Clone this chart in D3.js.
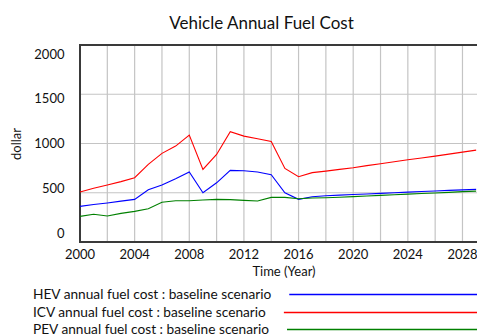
<!DOCTYPE html>
<html>
<head>
<meta charset="utf-8">
<script src="https://cdn.jsdelivr.net/npm/d3@7"></script>
<style>
  html, body { margin: 0; padding: 0; background: #fff; }
  svg { display: block; font-family: Lato, "Open Sans", sans-serif; }
</style>
</head>
<body>
<svg id="chart" width="477" height="334"></svg>
<script>
// Years simulated
const years = d3.range(2000, 2030);

// Annual fuel cost per vehicle type (dollar), baseline scenario
const hevCost = [362, 380, 396, 415, 433, 530, 578, 642, 710, 500,
                 601, 727, 723, 710, 683, 500, 433, 460, 470, 476,
                 482, 488, 494, 500, 506, 512, 518, 524, 529, 534];
const icvCost = [507, 545, 578, 613, 653, 788, 900, 974, 1085, 737,
                 889, 1120, 1075, 1048, 1021, 747, 663, 704, 720, 737,
                 754, 775, 795, 815, 835, 853, 872, 892, 912, 933];
const pevCost = [260, 281, 264, 291, 311, 338, 403, 419, 419, 426,
                 433, 430, 423, 416, 453, 453, 439, 446, 449, 455,
                 461, 467, 473, 479, 486, 492, 498, 504, 511, 517];

const yTicks = [0, 500, 1000, 1500, 2000];
const xTicks = d3.range(2000, 2030, 4);
const xGrid = d3.range(2000, 2030, 2);

const seriesList = [
  { name: "HEV annual fuel cost : baseline scenario", values: hevCost, color: "#0000ff" },
  { name: "ICV annual fuel cost : baseline scenario", values: icvCost, color: "#ff0000" },
  { name: "PEV annual fuel cost : baseline scenario", values: pevCost, color: "#008000" }
];

const svg = d3.select("#chart");
const plotLeft = 80, plotTop = 45, plotBottom = 242;

const x = d3.scaleLinear().domain([2000, 2029]).range([plotLeft, plotLeft + 29 * 13.66]);
const y = d3.scaleLinear().domain([0, 2000]).range([plotBottom, plotTop]);
// Value labels on the y axis sit slightly inside the frame
const yLabel = d3.scaleLinear().domain([0, 2000]).range([238, 58.5]);

// Grid
svg.append("g").selectAll("line").data(xGrid.slice(1)).join("line")
  .attr("x1", d => x(d)).attr("x2", d => x(d))
  .attr("y1", plotTop).attr("y2", plotBottom)
  .attr("stroke", "#c4c4c4").attr("stroke-width", 1.2);
svg.append("g").selectAll("line").data(yTicks.slice(1, -1)).join("line")
  .attr("x1", plotLeft).attr("x2", 477)
  .attr("y1", d => y(d)).attr("y2", d => y(d))
  .attr("stroke", "#c4c4c4").attr("stroke-width", 1.2);

// Frame: left, top and bottom edges
const frame = svg.append("g").attr("stroke", "#3a3a3a").attr("stroke-width", 2).attr("fill", "none");
frame.append("path").attr("d", `M477,${plotTop} H${plotLeft} V${plotBottom} H477`);

// Series lines
const line = d3.line().x((d, i) => x(years[i])).y(d => y(d));
svg.append("g").selectAll("path").data(seriesList).join("path")
  .attr("d", d => line(d.values))
  .attr("fill", "none")
  .attr("stroke", d => d.color)
  .attr("stroke-width", 1.1);

// Tick labels
svg.append("g").selectAll("text").data(yTicks).join("text")
  .attr("x", 64.5).attr("y", d => yLabel(d))
  .attr("text-anchor", "end")
  .attr("font-size", 13).attr("fill", "#111")
  .text(d => d);
svg.append("g").selectAll("text").data(xTicks).join("text")
  .attr("x", d => x(d)).attr("y", 259)
  .attr("text-anchor", "middle")
  .attr("font-size", 13).attr("fill", "#111")
  .text(d => d);

// Titles
svg.append("text").attr("x", 261.5).attr("y", 28.5)
  .attr("text-anchor", "middle").attr("font-size", 17).attr("fill", "#111")
  .text("Vehicle Annual Fuel Cost");
svg.append("text").attr("x", 284).attr("y", 276)
  .attr("text-anchor", "middle").attr("font-size", 13).attr("fill", "#111")
  .text("Time (Year)");
svg.append("text")
  .attr("transform", "translate(21,144) rotate(-90)")
  .attr("text-anchor", "middle").attr("font-size", 13).attr("fill", "#111")
  .text("dollar");

// Legend
const legendRows = [294.5, 312.5, 329.5];
const legend = svg.append("g").selectAll("g").data(seriesList).join("g")
  .attr("transform", (d, i) => `translate(33,${legendRows[i]})`);
legend.each(function (d) {
  const g = d3.select(this);
  const label = g.append("text")
    .attr("x", 0).attr("y", 4.5)
    .attr("font-size", 13.7).attr("fill", "#111")
    .text(d.name);
  const w = label.node().getComputedTextLength();
  g.append("line")
    .attr("x1", w + 18).attr("x2", 444)
    .attr("y1", 0).attr("y2", 0)
    .attr("stroke", d.color).attr("stroke-width", 1.4);
});
</script>
</body>
</html>
